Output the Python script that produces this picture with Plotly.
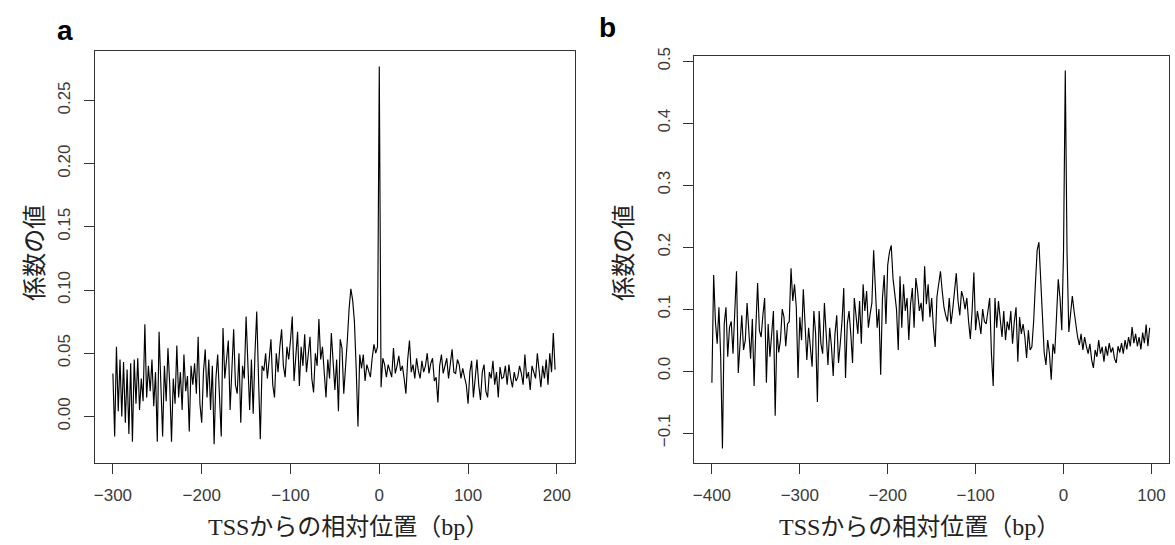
import plotly.graph_objects as go

# ---------------- data: panel a (TSS -300 .. 198, every 2 bp) ----------------
a_start = -300
a_step = 2
a_values = [
    0.034, -0.016, 0.055, 0.004, 0.045, 0.000, 0.043, -0.005, 0.037, -0.014,   # -300
    0.042, -0.020, 0.045, 0.010, 0.046, 0.005, 0.030, 0.012, 0.073, 0.015,     # -280
    0.040, 0.020, 0.045, 0.008, 0.035, -0.020, 0.067, 0.020, -0.016, 0.040,    # -260
    0.012, 0.054, 0.025, -0.020, 0.030, 0.010, 0.056, 0.015, 0.035, 0.005,     # -240
    0.049, 0.020, 0.032, -0.012, 0.040, 0.025, 0.042, 0.018, 0.063, 0.010,     # -220
    -0.005, 0.035, 0.053, 0.015, 0.045, 0.005, 0.040, -0.022, 0.030, 0.049,    # -200
    0.010, -0.016, 0.070, 0.030, 0.045, 0.060, 0.005, 0.040, 0.069, 0.025,     # -180
    0.018, 0.050, -0.005, 0.040, 0.030, 0.079, 0.035, 0.005, 0.045, 0.002,     # -160
    0.050, 0.083, 0.030, -0.018, 0.040, 0.036, 0.050, 0.030, 0.045, 0.061,     # -140
    0.025, 0.015, 0.050, 0.035, 0.055, 0.069, 0.040, 0.031, 0.055, 0.045,     # -120
    0.060, 0.079, 0.028, 0.050, 0.067, 0.024, 0.055, 0.040, 0.065, 0.035,     # -100
    0.050, 0.063, 0.030, 0.019, 0.050, 0.040, 0.077, 0.045, 0.055, 0.035,     # -80
    0.015, 0.045, 0.030, 0.066, 0.040, 0.021, 0.045, 0.004, 0.061, 0.054,     # -60
    0.018, 0.036, 0.060, 0.085, 0.101, 0.092, 0.075, 0.038, -0.008, 0.049,    # -40
    0.038, 0.049, 0.028, 0.041, 0.036, 0.031, 0.046, 0.057, 0.050, 0.055,     # -20
    0.277, 0.023, 0.046, 0.041, 0.031, 0.041, 0.036, 0.031, 0.054, 0.034,     # 0
    0.040, 0.048, 0.036, 0.040, 0.030, 0.018, 0.045, 0.060, 0.035, 0.041,     # 20
    0.030, 0.046, 0.036, 0.030, 0.044, 0.035, 0.040, 0.050, 0.034, 0.042,     # 40
    0.046, 0.028, 0.031, 0.011, 0.040, 0.049, 0.034, 0.040, 0.046, 0.030,     # 60
    0.040, 0.053, 0.035, 0.034, 0.045, 0.041, 0.030, 0.038, 0.031, 0.025,     # 80
    0.010, 0.035, 0.044, 0.015, 0.030, 0.045, 0.025, 0.013, 0.035, 0.041,     # 100
    0.020, 0.015, 0.035, 0.030, 0.044, 0.025, 0.035, 0.015, 0.039, 0.030,     # 120
    0.031, 0.040, 0.025, 0.041, 0.030, 0.023, 0.035, 0.028, 0.031, 0.040,     # 140
    0.034, 0.025, 0.049, 0.030, 0.035, 0.021, 0.040, 0.034, 0.030, 0.050,     # 160
    0.035, 0.023, 0.040, 0.030, 0.045, 0.025, 0.050, 0.035, 0.066, 0.037,     # 180
]

# ---------------- data: panel b (TSS -400 .. 98, every 2 bp) ----------------
b_start = -400
b_step = 2
b_values = [
    -0.019, 0.155, 0.080, 0.044, 0.103, 0.023, -0.125, 0.076, 0.103, 0.023,   # -400
    0.070, 0.080, 0.028, 0.097, 0.161, -0.003, 0.055, 0.090, 0.034, 0.050,    # -380
    0.110, 0.060, 0.020, 0.084, -0.024, 0.070, 0.142, 0.066, 0.055, 0.090,    # -360
    0.118, -0.019, 0.076, 0.023, 0.060, 0.097, -0.072, 0.066, 0.030, 0.050,   # -340
    0.100, 0.087, 0.040, 0.076, 0.080, 0.166, 0.113, 0.140, 0.103, -0.011,    # -320
    0.087, 0.050, 0.132, 0.060, 0.018, 0.070, 0.040, 0.007, 0.097, 0.060,     # -300
    -0.050, 0.097, 0.044, 0.028, 0.110, 0.060, 0.010, 0.070, 0.040, -0.008,   # -280
    0.060, 0.090, 0.013, 0.044, 0.080, 0.134, -0.011, 0.076, 0.097, 0.060,    # -260
    0.013, 0.118, 0.092, 0.060, 0.113, 0.044, 0.140, 0.097, 0.129, 0.070,     # -240
    0.092, 0.110, 0.195, 0.129, 0.070, 0.100, -0.006, 0.118, 0.155, 0.076,    # -220
    0.171, 0.192, 0.203, 0.150, 0.129, 0.100, 0.034, 0.153, 0.070, 0.140,     # -200
    0.097, 0.118, 0.050, 0.108, 0.134, 0.070, 0.150, 0.129, 0.097, 0.110,     # -180
    0.080, 0.169, 0.108, 0.140, 0.087, 0.118, 0.070, 0.039, 0.120, 0.140,     # -160
    0.161, 0.129, 0.103, 0.090, 0.080, 0.118, 0.076, 0.100, 0.129, 0.158,     # -140
    0.113, 0.090, 0.129, 0.118, 0.100, 0.118, 0.080, 0.052, 0.097, 0.159,     # -120
    0.066, 0.097, 0.080, 0.060, 0.100, 0.080, 0.076, 0.097, 0.118, 0.028,     # -100
    -0.024, 0.118, 0.070, 0.113, 0.080, 0.055, 0.097, 0.050, 0.080, 0.066,    # -80
    0.097, 0.044, 0.080, 0.103, 0.015, 0.087, 0.060, 0.076, 0.055, 0.021,     # -60
    0.066, 0.034, 0.039, 0.080, 0.140, 0.195, 0.208, 0.150, 0.090, 0.030,     # -40
    0.010, 0.050, 0.028, -0.014, 0.044, 0.028, 0.087, 0.148, 0.118, 0.066,    # -20
    0.192, 0.485, 0.192, 0.063, 0.092, 0.121, 0.097, 0.071, 0.055, 0.042,     # 0
    0.060, 0.034, 0.055, 0.040, 0.028, 0.044, 0.018, 0.005, 0.034, 0.023,     # 20
    0.050, 0.028, 0.039, 0.015, 0.040, 0.025, 0.045, 0.030, 0.038, 0.020,     # 40
    0.013, 0.040, 0.030, 0.045, 0.028, 0.050, 0.035, 0.055, 0.040, 0.071,     # 60
    0.045, 0.060, 0.040, 0.055, 0.035, 0.062, 0.045, 0.075, 0.040, 0.070,     # 80
]

a_x = [a_start + a_step * i for i in range(len(a_values))]
b_x = [b_start + b_step * i for i in range(len(b_values))]

a_xticks = [-300, -200, -100, 0, 100, 200]
a_yticks = [0.00, 0.05, 0.10, 0.15, 0.20, 0.25]
b_xticks = [-400, -300, -200, -100, 0, 100]
b_yticks = [-0.1, 0.0, 0.1, 0.2, 0.3, 0.4, 0.5]

x_title = "TSSからの相対位置（bp）"
y_title = "係数の値"

W, H = 1175, 545
TICK_FONT = dict(family="Liberation Sans, Arial, sans-serif", size=17, color="#3a3a3a")
TITLE_FONT = dict(family="Liberation Serif, Noto Sans CJK JP, serif", size=24, color="#222222")
AX_COL = "#333333"

fig = go.Figure()
fig.add_trace(go.Scatter(x=a_x, y=a_values, mode="lines",
                         line=dict(color="#000000", width=1.15), xaxis="x", yaxis="y",
                         showlegend=False, hoverinfo="x+y"))
fig.add_trace(go.Scatter(x=b_x, y=b_values, mode="lines",
                         line=dict(color="#000000", width=1.15), xaxis="x2", yaxis="y2",
                         showlegend=False, hoverinfo="x+y"))

def xax(domain, rng, ticks, anchor):
    return dict(domain=domain, range=rng, tickvals=ticks, anchor=anchor,
                showline=True, mirror=True, linecolor=AX_COL, linewidth=1,
                ticks="outside", ticklen=10, tickcolor=AX_COL, tickwidth=1,
                showgrid=False, zeroline=False, tickfont=TICK_FONT,
                ticklabelstandoff=6)

def yax(domain, rng, ticks, anchor, fmt):
    return dict(domain=domain, range=rng, tickvals=ticks, anchor=anchor,
                tickformat=fmt, tickangle=-90,
                showline=True, mirror=True, linecolor=AX_COL, linewidth=1,
                ticks="outside", ticklen=10, tickcolor=AX_COL, tickwidth=1,
                showgrid=False, zeroline=False, tickfont=TICK_FONT,
                ticklabelstandoff=7)

fig.update_layout(
    width=W, height=H,
    margin=dict(l=0, r=0, t=0, b=0),
    paper_bgcolor="white", plot_bgcolor="white",
    xaxis=xax([93.3 / W, 573.6 / W], [-320, 220], a_xticks, "y"),
    yaxis=yax([1 - 462 / H, 1 - 42.7 / H], [-0.0372, 0.2892], a_yticks, "x", ".2f"),
    xaxis2=xax([693.5 / W, 1169 / W], [-420, 120], b_xticks, "y2"),
    yaxis2=yax([1 - 462 / H, 1 - 47.5 / H], [-0.149, 0.509], b_yticks, "x2", ".1f"),
    annotations=[
        dict(text="<b>a</b>", x=63 / W, y=1 - 22 / H, xref="paper", yref="paper",
             showarrow=False, xanchor="center", yanchor="middle",
             font=dict(family="Liberation Sans, Arial, sans-serif", size=28, color="#000")),
        dict(text="<b>b</b>", x=607 / W, y=1 - 19 / H, xref="paper", yref="paper",
             showarrow=False, xanchor="center", yanchor="middle",
             font=dict(family="Liberation Sans, Arial, sans-serif", size=28, color="#000")),
        dict(text=x_title, x=347 / W, y=1 - 527 / H, xref="paper", yref="paper",
             showarrow=False, xanchor="center", yanchor="middle", font=TITLE_FONT),
        dict(text=x_title, x=919 / W, y=1 - 527 / H, xref="paper", yref="paper",
             showarrow=False, xanchor="center", yanchor="middle", font=TITLE_FONT),
        dict(text=y_title, x=33 / W, y=1 - 248 / H, xref="paper", yref="paper",
             showarrow=False, xanchor="center", yanchor="middle", textangle=-90, font=TITLE_FONT),
        dict(text=y_title, x=623 / W, y=1 - 248 / H, xref="paper", yref="paper",
             showarrow=False, xanchor="center", yanchor="middle", textangle=-90, font=TITLE_FONT),
    ],
)

fig.write_html("out.html")
